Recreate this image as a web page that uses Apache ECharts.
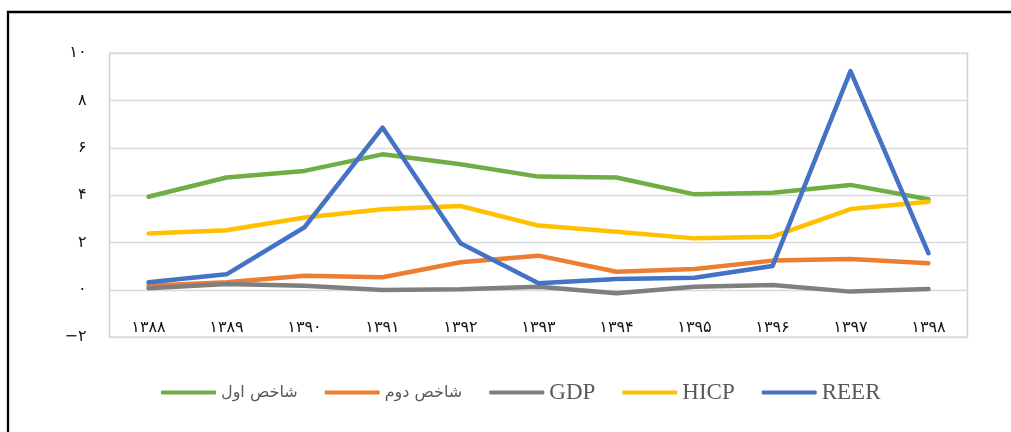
<!DOCTYPE html>
<html>
<head>
<meta charset="utf-8">
<script src="https://cdn.jsdelivr.net/npm/echarts@6/dist/echarts.min.js"></script>
<style>
    html, body { margin: 0; padding: 0; background: #fff; }
    #chart { width: 1011px; height: 432px; }
</style>
</head>
<body>
<div id="chart"></div>
<script>
    // years (solar hijri)
    const years = ['۱۳۸۸', '۱۳۸۹', '۱۳۹۰', '۱۳۹۱', '۱۳۹۲', '۱۳۹۳', '۱۳۹۴', '۱۳۹۵', '۱۳۹۶', '۱۳۹۷', '۱۳۹۸'];
    const seriesNames = ['شاخص اول', 'شاخص دوم', 'GDP', 'HICP', 'REER'];
    const index1 = [3.94, 4.75, 5.03, 5.73, 5.31, 4.79, 4.75, 4.04, 4.11, 4.44, 3.83];
    const index2 = [0.18, 0.33, 0.6, 0.54, 1.17, 1.45, 0.77, 0.89, 1.24, 1.31, 1.13];
    const gdp = [0.07, 0.25, 0.18, 0.0, 0.03, 0.14, -0.14, 0.14, 0.21, -0.07, 0.04];
    const hicp = [2.39, 2.52, 3.06, 3.41, 3.55, 2.72, 2.46, 2.18, 2.25, 3.42, 3.73];
    const reer = [0.33, 0.66, 2.65, 6.86, 1.97, 0.28, 0.46, 0.52, 1.01, 9.25, 1.55];
    const yTickLabels = {'-2': '−۲', '0': '۰', '2': '۲', '4': '۴', '6': '۶', '8': '۸', '10': '۱۰'};
    const colors = ['#70AD47', '#ED7D31', '#7F7F7F', '#FFC000', '#4472C4'];

    const allData = [index1, index2, gdp, hicp, reer];
    let series = [];
    for (let i = 0; i < seriesNames.length; i++) {
        series.push({
            name: seriesNames[i],
            type: 'line',
            data: allData[i],
            symbol: 'none',
            smooth: false,
            z: 2 + i,
            lineStyle: {width: 4.5, color: colors[i], cap: 'round', join: 'round'},
            itemStyle: {color: colors[i]}
        });
    }

    const chart = echarts.init(document.getElementById('chart'));
    const option = {
        backgroundColor: '#fff',
        animation: false,
        color: colors,
        grid: {
            show: true,
            left: 109.5,
            right: 43.5,
            top: 53.3,
            bottom: 94.7,
            borderColor: '#d0d0d0',
            borderWidth: 1.5
        },
        graphic: [{
            type: 'polyline',
            shape: {points: [[8, 432], [8, 12], [1011, 12]]},
            style: {stroke: '#000', lineWidth: 2.3, fill: null}
        }],
        legend: {
            left: 156,
            top: 376,
            itemWidth: 55,
            itemHeight: 4,
            itemGap: 27,
            icon: 'roundRect',
            data: seriesNames,
            formatter: function (name) {
                if (/[\u0600-\u06FF]/.test(name)) return '{ar|' + name + '}';
                return name;
            },
            textStyle: {
                fontFamily: "'Liberation Serif', serif",
                fontSize: 23,
                color: '#595959',
                rich: {
                    ar: {fontFamily: "'DejaVu Sans'", fontSize: 16, color: '#595959'}
                }
            }
        },
        xAxis: {
            type: 'category',
            data: years,
            boundaryGap: true,
            axisLine: {show: false},
            axisTick: {show: false},
            axisLabel: {
                margin: -9,
                verticalAlign: 'middle',
                fontFamily: "'DejaVu Sans'",
                fontSize: 16,
                color: '#111'
            }
        },
        yAxis: {
            type: 'value',
            min: -2,
            max: 10,
            interval: 2,
            axisLine: {show: false},
            axisTick: {show: false},
            splitLine: {lineStyle: {color: '#d9d9d9', width: 1.3}},
            axisLabel: {
                margin: 23,
                fontFamily: "'DejaVu Sans'",
                fontSize: 16,
                lineHeight: 16,
                padding: [6, 0, 0, 0],
                color: '#111',
                formatter: function (v) { return yTickLabels[String(v)]; }
            }
        },
        series: series
    };
    chart.setOption(option);
</script>
</body>
</html>
